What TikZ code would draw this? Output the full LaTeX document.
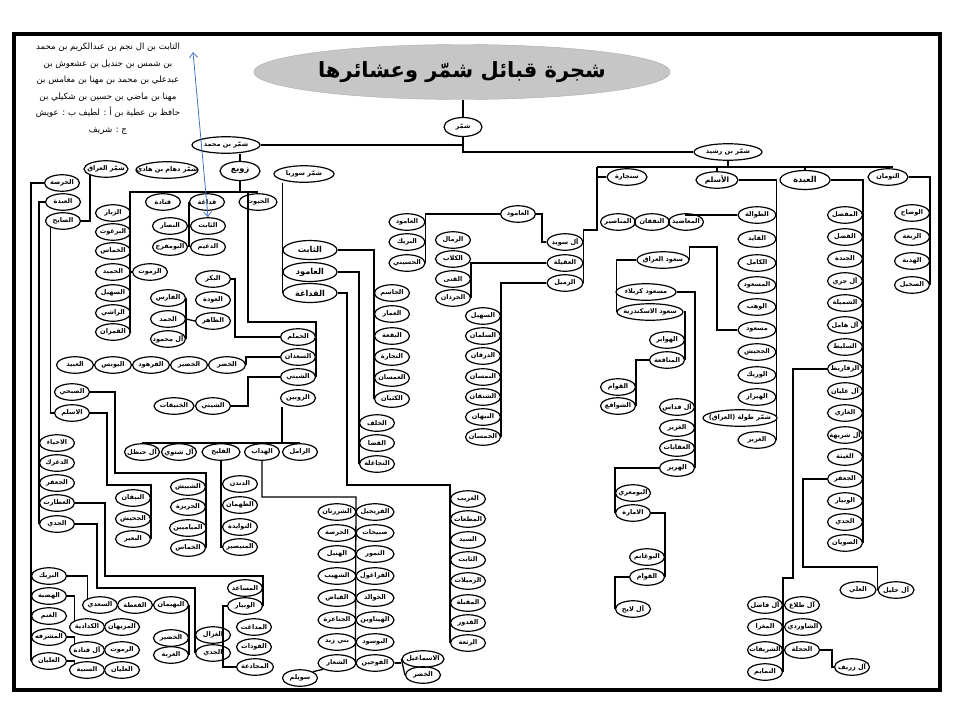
\documentclass[tikz,border=0pt]{standalone}
\usepackage{fontspec}
\newfontfamily\arabicfont[Script=Arabic]{DejaVu Sans}
\TeXXeTstate=1
\usetikzlibrary{shapes.geometric, arrows.meta}
\definecolor{refblue}{RGB}{70,114,196}
\newcommand\ar[1]{\makebox[0pt]{\beginR#1\endR}}
\begin{document}
\begin{tikzpicture}[x=1pt, y=-1pt,
    nd/.style={draw, ellipse, line width=1.2pt, inner sep=0pt, minimum width=35pt, minimum height=16.5pt, font=\arabicfont\bfseries\fontsize{6.5}{7}\selectfont},
    big/.style={nd, minimum width=46pt, minimum height=19pt, font=\arabicfont\bfseries\fontsize{8.2}{9}\selectfont},
    ttl/.style={ellipse, fill=gray!45, draw=gray!65, minimum width=310pt, minimum height=55pt, font=\arabicfont\bfseries\fontsize{21}{22}\selectfont},
    note/.style={align=center, inner sep=0pt, font=\arabicfont\fontsize{8.6}{16.5}\selectfont},
    link/.style={line width=1.3pt},
    ref/.style={draw=refblue, line width=0.8pt, {Straight Barb[length=5pt,width=8pt]}-{Straight Barb[length=5pt,width=8pt]}}
  ]
  \useasboundingbox (0,0) rectangle (960,720);
  \draw[line width=3.4pt] (14,34) rectangle (940,690);

  \node[ttl] (title) at (462,72) {\beginR شجرة قبائل شمّر وعشائرها\endR};
  \node[note] (note) at (108,89) {\beginR التابت بن ال نجم بن عبدالكريم  بن محمد\endR\\ \beginR بن شمس بن جنديل بن عشعوش بن\endR\\ \beginR عبدعلي بن محمد بن مهنا بن مغامس بن\endR\\ \beginR مهنا بن ماضي بن حسين بن شكيلي بن\endR\\ \beginR حافظ بن عطية بن أ : لطيف ب : عويش\endR\\ \beginR ج : شريف\endR};
  \coordinate (noteend) at (193,52);

  \node[nd, minimum width=38pt, minimum height=19pt] (shammar) at (463,127) {\ar{شمّر}};
  \node[nd, minimum width=68pt] (shmohd) at (226,145) {\ar{شمّر بن محمد}};
  \node[nd, minimum width=68pt] (rashid) at (728,152) {\ar{شمّر بن رشيد}};

  \node[nd, minimum width=44pt] (iraq) at (106,169) {\ar{شمّر العراق}};
  \node[nd, minimum width=62pt] (dahham) at (167,170) {\ar{شمّر دهام بن هادي}};
  \node[big, minimum width=40pt] (zawba) at (240,171) {\ar{زوبع}};
  \node[nd, minimum width=60pt] (syria) at (304,174) {\ar{شمّر سوريا}};
  \node[nd] (khirsa) at (62,183) {\ar{الخرصة}};
  \node[nd] (abda1) at (63,202) {\ar{العبدة}};
  \node[nd] (sayih) at (63,221) {\ar{الصايح}};
  \node[nd] (qatada) at (163,202) {\ar{قتادة}};
  \node[nd] (qdagha1) at (207,202) {\ar{قداغة}};
  \node[nd, minimum width=38pt] (hiyut) at (258,202) {\ar{الحيوت}};
  \node[nd] (zubar) at (113,213) {\ar{الزبار}};
  \node[nd] (barghuth) at (113,232) {\ar{البرغوث}};
  \node[nd] (khammas1) at (113,251) {\ar{الخماس}};
  \node[nd] (hamid) at (113,272) {\ar{الحميد}};
  \node[nd] (rumut1) at (150,272) {\ar{الرموت}};
  \node[nd] (suhail1) at (113,293) {\ar{السهيل}};
  \node[nd] (rashi) at (113,313) {\ar{الراشي}};
  \node[nd] (qamzan) at (113,332) {\ar{القمزان}};
  \node[nd] (nassar) at (170,226) {\ar{النصار}};
  \node[nd] (thabit1) at (208,226) {\ar{الثابت}};
  \node[nd] (bumfarij) at (170,247) {\ar{البومفرج}};
  \node[nd] (dughaim) at (208,247) {\ar{الدغيم}};
  \node[nd] (bakr) at (213,279) {\ar{البكر}};
  \node[nd] (awda) at (213,300) {\ar{العودة}};
  \node[nd] (dhahir) at (213,321) {\ar{الظاهر}};
  \node[nd] (faris) at (168,298) {\ar{الفارس}};
  \node[nd] (hamad) at (168,319) {\ar{الحمد}};
  \node[nd] (mahmud) at (168,339) {\ar{آل محمود}};
  \node[nd, minimum width=37pt] (ubaid) at (75,365) {\ar{العبيد}};
  \node[nd, minimum width=37pt] (yunis) at (113,365) {\ar{اليونس}};
  \node[nd, minimum width=37pt] (farhud) at (151,365) {\ar{الفرهود}};
  \node[nd, minimum width=37pt] (khudair1) at (189,365) {\ar{الخضير}};
  \node[nd, minimum width=37pt] (khidr1) at (227,365) {\ar{الخضر}};
  \node[nd] (subhi) at (72,392) {\ar{الصبحي}};
  \node[nd] (aslam1) at (72,413) {\ar{الاسلم}};
  \node[nd, minimum width=40pt] (khunaifat) at (174,406) {\ar{الخنيفات}};
  \node[nd] (shaiti2) at (213,406) {\ar{الشيتي}};
  \node[nd] (handhal) at (142,452) {\ar{آل حنظل}};
  \node[nd] (shatwi) at (179,452) {\ar{آل شتوي}};
  \node[nd, minimum width=38pt] (fulaih) at (221,452) {\ar{الفليح}};
  \node[nd] (haddab) at (262,452) {\ar{الهداب}};
  \node[nd] (zamil) at (300,452) {\ar{الزامل}};
  \node[nd] (ahya) at (57,443) {\ar{الاحياء}};
  \node[nd] (daghrak) at (57,463) {\ar{الدغرك}};
  \node[nd] (jafar1) at (57,483) {\ar{الجعفر}};
  \node[nd] (attart) at (57,503) {\ar{العطارت}};
  \node[nd] (jiddi1) at (57,524) {\ar{الجدي}};
  \node[nd] (bayqan) at (133,498) {\ar{البيقان}};
  \node[nd] (juhaish1) at (133,519) {\ar{الجحيش}};
  \node[nd] (baair) at (133,539) {\ar{البعير}};
  \node[nd] (shubaish) at (188,487) {\ar{الشبيش}};
  \node[nd] (harira) at (188,507) {\ar{الحريزة}};
  \node[nd, minimum width=37pt] (mayamin) at (188,528) {\ar{المياميين}};
  \node[nd] (khammas2) at (188,548) {\ar{الخماس}};
  \node[nd] (dandan) at (240,484) {\ar{الدندن}};
  \node[nd] (dhahman) at (240,505) {\ar{الظهمان}};
  \node[nd] (tawayda) at (240,527) {\ar{التوايدة}};
  \node[nd] (mutaisir) at (240,547) {\ar{المتيصير}};
  \node[nd] (musaid) at (245,588) {\ar{المساعد}};
  \node[nd] (wubayar1) at (245,606) {\ar{الوبيار}};
  \node[nd] (daghat) at (254,627) {\ar{المداغت}};
  \node[nd] (fudat) at (254,647) {\ar{الفودات}};
  \node[nd, minimum width=37pt] (mujadaa) at (255,667) {\ar{المجادعة}};
  \node[nd] (ghazal) at (213,635) {\ar{الغزال}};
  \node[nd] (jiddi2) at (213,653) {\ar{الجدي}};
  \node[nd] (buraik) at (49,576) {\ar{البريك}};
  \node[nd] (hadba) at (49,596) {\ar{الهضبة}};
  \node[nd] (ghanam) at (49,616) {\ar{الغنم}};
  \node[nd] (mushrifa) at (49,637) {\ar{المشرفه}};
  \node[nd] (ulayan1) at (49,661) {\ar{العليان}};
  \node[nd] (saadi) at (100,605) {\ar{السعدي}};
  \node[nd] (qatta) at (135,605) {\ar{القعطة}};
  \node[nd] (buhaiman) at (171,605) {\ar{البهيمان}};
  \node[nd] (kadadiya) at (87,627) {\ar{الكدادية}};
  \node[nd] (muzaihan) at (122,627) {\ar{المزيهان}};
  \node[nd] (qnada) at (87,650) {\ar{آل قنادة}};
  \node[nd] (rumut2) at (122,650) {\ar{الرموت}};
  \node[nd] (sabiya) at (87,670) {\ar{السبية}};
  \node[nd] (ulayan2) at (122,670) {\ar{العليان}};
  \node[nd] (khudair2) at (171,638) {\ar{الخضير}};
  \node[nd] (ghurba) at (171,655) {\ar{الغربة}};

  \node[big, minimum width=54pt] (thabit2) at (310,250) {\ar{الثابت}};
  \node[big, minimum width=54pt] (amud1) at (310,272) {\ar{العامود}};
  \node[big, minimum width=54pt] (qdagha2) at (310,293) {\ar{القداغة}};
  \node[nd] (hamlam) at (298,337) {\ar{الحملم}};
  \node[nd] (saadan) at (298,357) {\ar{السعدان}};
  \node[nd] (shaiti1) at (298,377) {\ar{الشيتي}};
  \node[nd] (zubain) at (298,398) {\ar{الزوبين}};
  \node[nd] (jasim) at (392,293) {\ar{الجاسم}};
  \node[nd] (ammar) at (392,314) {\ar{العمار}};
  \node[nd] (buqaa) at (392,336) {\ar{البقعة}};
  \node[nd] (tijara) at (392,357) {\ar{التجارة}};
  \node[nd] (amsan) at (392,378) {\ar{العمسان}};
  \node[nd] (kuthyan) at (392,399) {\ar{الكثيان}};
  \node[nd] (khalaf) at (377,423) {\ar{الخلف}};
  \node[nd] (qada) at (377,443) {\ar{القضا}};
  \node[nd] (tajaghla) at (377,464) {\ar{التجاغلة}};
  \node[nd, minimum width=38pt] (shurratan) at (337,512) {\ar{الشررتان}};
  \node[nd, minimum width=38pt] (harsa) at (337,533) {\ar{الحرصة}};
  \node[nd, minimum width=38pt] (hutail) at (337,554) {\ar{الهتيل}};
  \node[nd, minimum width=38pt] (shuhaib) at (337,576) {\ar{الشهيب}};
  \node[nd, minimum width=38pt] (fayyadh) at (337,598) {\ar{الفياض}};
  \node[nd, minimum width=38pt] (janaira) at (337,620) {\ar{الجناعرة}};
  \node[nd, minimum width=38pt] (banizaid) at (337,642) {\ar{بني زيد}};
  \node[nd, minimum width=38pt] (shaar) at (337,663) {\ar{الشعار}};
  \node[nd, minimum width=38pt] (furaijil) at (375,512) {\ar{الفريجيل}};
  \node[nd, minimum width=38pt] (subaihat) at (375,533) {\ar{صبيحات}};
  \node[nd, minimum width=38pt] (tumur) at (375,554) {\ar{التمور}};
  \node[nd, minimum width=38pt] (faraghul) at (375,576) {\ar{الفراغول}};
  \node[nd, minimum width=38pt] (khawalid) at (375,598) {\ar{الخوالد}};
  \node[nd, minimum width=38pt] (haitawin) at (375,620) {\ar{الهيتاوين}};
  \node[nd, minimum width=38pt] (busud) at (375,642) {\ar{البوسود}};
  \node[nd, minimum width=38pt] (fawjin) at (375,663) {\ar{الفوجين}};
  \node[nd] (suwailim) at (300,678) {\ar{سويلم}};
  \node[nd, minimum width=42pt] (ismail) at (423,659) {\ar{الاسماعيل}};
  \node[nd] (khidr2) at (423,675) {\ar{الخضر}};
  \node[nd] (gharib) at (468,499) {\ar{الغريب}};
  \node[nd] (mataat) at (468,519) {\ar{المطعات}};
  \node[nd] (sayid) at (468,540) {\ar{السيد}};
  \node[nd] (thabit3) at (468,560) {\ar{الثابت}};
  \node[nd] (zumailat) at (468,581) {\ar{الزميلات}};
  \node[nd] (muqbila) at (468,603) {\ar{المقبلة}};
  \node[nd] (qudur) at (468,623) {\ar{القدور}};
  \node[nd] (rathaa) at (468,643) {\ar{الرثعة}};

  \node[nd, minimum width=36pt] (amud2) at (407,222) {\ar{العامود}};
  \node[nd, minimum width=36pt] (buraik2) at (407,242) {\ar{البريك}};
  \node[nd, minimum width=36pt] (husaini) at (407,263) {\ar{الحسيني}};
  \node[nd] (rimal) at (453,240) {\ar{الرمال}};
  \node[nd] (kilab) at (453,259) {\ar{الكلاب}};
  \node[nd] (qina) at (453,279) {\ar{القنى}};
  \node[nd] (jurdhan) at (453,298) {\ar{الجرذان}};
  \node[nd] (amud3) at (518,214) {\ar{العامود}};
  \node[nd, minimum width=36pt] (suwaid) at (565,242) {\ar{آل سويد}};
  \node[nd, minimum width=36pt] (uqaila) at (565,263) {\ar{العقيلة}};
  \node[nd, minimum width=36pt] (zumail) at (565,283) {\ar{الزميل}};
  \node[nd] (suhail2) at (483,316) {\ar{السهيل}};
  \node[nd] (salman) at (483,336) {\ar{السلمان}};
  \node[nd] (darqan) at (483,356) {\ar{الدرقان}};
  \node[nd] (namsan) at (483,377) {\ar{النمسان}};
  \node[nd] (shanqan) at (483,397) {\ar{الشنقان}};
  \node[nd] (nabhan) at (483,417) {\ar{النبهان}};
  \node[nd] (khamsan) at (483,437) {\ar{الخمسان}};

  \node[nd, minimum width=40pt] (sinjara) at (627,177) {\ar{سنجارة}};
  \node[nd, minimum width=42pt, font=\arabicfont\bfseries\fontsize{7.4}{8}\selectfont] (aslam2) at (717,180) {\ar{الأسلم}};
  \node[big, minimum width=50pt] (abda2) at (805,180) {\ar{العبدة}};
  \node[nd, minimum width=40pt] (tuman) at (888,177) {\ar{التومان}};
  \node[nd] (manasir) at (618,222) {\ar{المناصير}};
  \node[nd] (nafqan) at (652,222) {\ar{النفقان}};
  \node[nd] (maadhid) at (686,222) {\ar{المعاضيد}};
  \node[nd, minimum width=38pt] (tawala) at (757,215) {\ar{الطوالة}};
  \node[nd, minimum width=38pt] (qayid) at (757,239) {\ar{القايد}};
  \node[nd, minimum width=38pt] (kamil) at (757,263) {\ar{الكامل}};
  \node[nd, minimum width=38pt] (masud1) at (757,285) {\ar{المسعود}};
  \node[nd, minimum width=38pt] (wahab) at (757,307) {\ar{الوهب}};
  \node[nd, minimum width=38pt] (masud2) at (757,330) {\ar{مسعود}};
  \node[nd, minimum width=38pt] (juhaish2) at (757,352) {\ar{الجحيش}};
  \node[nd, minimum width=38pt] (wurayk) at (757,375) {\ar{الوريك}};
  \node[nd, minimum width=38pt] (habraz) at (757,397) {\ar{الهبراز}};
  \node[nd, minimum width=74pt] (tula) at (740,418) {\ar{شمّر طولة (العراق)}};
  \node[nd, minimum width=38pt] (ghurair1) at (757,440) {\ar{الغرير}};
  \node[nd, minimum width=52pt] (saudiraq) at (663,260) {\ar{سعود العراق}};
  \node[nd, minimum width=60pt] (karbala) at (646,292) {\ar{مسعود كربلاء}};
  \node[nd, minimum width=66pt] (iskandar) at (650,312) {\ar{سعود الاسكندرية}};
  \node[nd] (hawabir) at (667,340) {\ar{الهوابر}};
  \node[nd] (manaqia) at (667,360) {\ar{المناقعة}};
  \node[nd] (quwam1) at (618,387) {\ar{القوام}};
  \node[nd] (shawafi) at (618,406) {\ar{الشوافع}};
  \node[nd] (fadas) at (677,407) {\ar{آل فداس}};
  \node[nd] (ghurair2) at (677,428) {\ar{الغرير}};
  \node[nd] (uqabat) at (677,448) {\ar{العقابات}};
  \node[nd] (hurair) at (677,468) {\ar{الهرير}};
  \node[nd] (bumari) at (633,493) {\ar{البومعري}};
  \node[nd] (imara) at (633,513) {\ar{الامارة}};
  \node[nd] (bughanim) at (647,557) {\ar{البوغانم}};
  \node[nd] (quwam2) at (647,577) {\ar{القوام}};
  \node[nd] (layih) at (633,609) {\ar{آل لايح}};
  \node[nd] (mufaddal) at (845,215) {\ar{المفضل}};
  \node[nd] (fadl) at (845,237) {\ar{الفضل}};
  \node[nd] (junda) at (845,259) {\ar{الجندة}};
  \node[nd] (jari) at (845,281) {\ar{آل جري}};
  \node[nd] (shumaila) at (845,303) {\ar{الشميلة}};
  \node[nd] (hamil) at (845,325) {\ar{آل هامل}};
  \node[nd] (sulait) at (845,347) {\ar{السليط}};
  \node[nd] (zuqarit) at (845,369) {\ar{الزقاريط}};
  \node[nd] (ulyan) at (845,391) {\ar{آل عليان}};
  \node[nd] (ghazi) at (845,413) {\ar{الغازي}};
  \node[nd] (shariha) at (845,435) {\ar{آل شريهة}};
  \node[nd] (ghaitha) at (845,457) {\ar{الغيثة}};
  \node[nd] (jafar2) at (845,479) {\ar{الجعفر}};
  \node[nd] (wubayar2) at (845,501) {\ar{الوبيار}};
  \node[nd] (jiddi3) at (845,522) {\ar{الجدي}};
  \node[nd] (suwayan) at (845,543) {\ar{الصويان}};
  \node[nd] (waddah) at (912,213) {\ar{الوضاح}};
  \node[nd] (rabaa) at (912,237) {\ar{الربعة}};
  \node[nd] (hadba2) at (912,261) {\ar{الهدبة}};
  \node[nd] (sakhil) at (912,285) {\ar{الصخيل}};
  \node[nd, minimum width=36pt] (ali) at (858,590) {\ar{العلي}};
  \node[nd, minimum width=36pt] (khalil) at (896,590) {\ar{آل خليل}};
  \node[nd] (tala) at (802,605) {\ar{آل طلاع}};
  \node[nd] (fadil) at (765,605) {\ar{آل فاضل}};
  \node[nd, minimum width=37pt] (shawardi) at (803,627) {\ar{الشاوردي}};
  \node[nd] (mughra) at (765,627) {\ar{المغرا}};
  \node[nd] (hajla) at (802,650) {\ar{الحجلة}};
  \node[nd] (sharifat) at (765,650) {\ar{الشريفات}};
  \node[nd] (tamayim) at (765,672) {\ar{التمايم}};
  \node[nd] (zarif) at (852,667) {\ar{آل زريف}};

  \coordinate (zbL) at (130,192);
  \coordinate (zbR) at (258,192);
  \coordinate (hvA) at (248,192);
  \coordinate (hvB) at (248,322);
  \coordinate (zbj) at (282,443);
  \coordinate (hdb) at (356,497);
  \coordinate (qdg) at (347,485);
  \coordinate (asl) at (107,485);
  \coordinate (sbh) at (115,473);
  \coordinate (att) at (105,576);
  \coordinate (jd) at (97,588);
  \coordinate (rbL) at (597,167);
  \coordinate (rbR) at (893,167);
  \coordinate (ms) at (717,247);
  \coordinate (zq) at (793,578);
  \coordinate (jf) at (803,567);

  \draw[link] (title.south -| shammar) -- (shammar.north);
  \draw[link] (shammar.south) |- (shmohd.east);
  \draw[link] (shammar.south) |- (rashid.west);
  \draw[link] (shmohd.south -| zawba) -- (zawba.north);
  \draw[link] (zawba.south) -- (zawba.south |- zbL);
  \draw[link] (zbR) -- (zbL) |- (qamzan.east);
  \draw[link] (hvA) -- (hvB) -| (shaiti1.east);
  \draw[link] (rumut1.west) -- (hamid.east);
  \draw[link] (qdagha1.west) -- (qdagha1.west |- dughaim.west);
  \draw[link] (bakr.east) -- ++(4,0) |- (hamlam.west);
  \draw[link] (hamad.east) -- (dhahir.west);
  \draw[link] (faris.east) -- (mahmud.east);
  \draw[link] (saadan.west) -| (khidr1.east);
  \draw[link] (shaiti1.west) -- ++(-32,0) |- (shaiti2.east);
  \draw[link] (zubain.south -| zbj) -- (zbj);
  \draw[link] (handhal.north |- zbj) -- (zamil.north |- zbj);
  \draw[link] (fulaih.south) |- (mutaisir.west);
  \draw[link] (haddab.south) |- (hdb) -- (fawjin.west);
  \draw[link] (shaar.south west) -- (suwailim.north east);
  \draw[link] (fawjin.east) -- (fawjin.east -| ismail.west);
  \draw[link] (ismail.west) -- (khidr2.west);
  \draw[link] (syria.south -| qdagha2.west) -- (qdagha2.west);
  \draw[link] (thabit2.east) -| (kuthyan.west);
  \draw[link] (amud1.east) -| (tajaghla.west);
  \draw[link] (qdagha2.east) -| (qdg) -| (rathaa.west);
  \draw[link] (aslam1.east) -| (asl) -| (baair.east);
  \draw[link] (subhi.east) -| (sbh) -| (khammas2.east);
  \draw[link] (abda1.west) -| (jiddi1.west);
  \draw[link] (khirsa.west) -| (ulayan1.west);
  \draw[link] (sayih.south west) |- (aslam1.west);
  \draw[link] (iraq.south west) |- (sayih.east);
  \draw[link] (attart.east) -| (att) -| (wubayar1.east);
  \draw[link] (wubayar1.west) -- ++(-4,0) |- (mujadaa.west);
  \draw[link] (jiddi1.east) -| (jd) -| (jiddi2.west);
  \draw[link] (buraik.east) -| (saadi.north west);
  \draw[link] (hadba.east) -| (kadadiya.north west);
  \draw[link] (mushrifa.east) -| (qnada.north west);
  \draw[link] (ulayan1.east) -| (sabiya.north west);
  \draw[link] (buhaiman.east) -- (ghurba.east);
  \draw[ref] (noteend) -- (thabit1.north);

  \draw[link] (amud3.west) -| (husaini.east);
  \draw[link] (amud3.east) -- ++(6,0) |- (suwaid.west);
  \draw[link] (suwaid.east) -- (zumail.east);
  \draw[link] (uqaila.west) -| (jurdhan.east);
  \draw[link] (zumail.west) -| (khamsan.east);
  \draw[link] (rashid.south) -- (rashid.south |- rbL);
  \draw[link] (rbL) -- (rbR);
  \draw[link] (rbL) |- (sinjara.west);
  \draw[link] (rbL) -- ++(0,63) -| (suwaid.east);
  \draw[link] (aslam2.north |- rbL) -- (aslam2.north);
  \draw[link] (abda2.north |- rbL) -- (abda2.north);
  \draw[link] (tuman.north |- rbL) -- (tuman.north);
  \draw[link] (aslam2.east) -| (ghurair1.east);
  \draw[link] (maadhid.north) |- (tawala.west);
  \draw[link] (masud2.west) -| (ms) -| (saudiraq.east);
  \draw[link] (saudiraq.west) -| (iskandar.west);
  \draw[link] (karbala.east) -| (hurair.east);
  \draw[link] (iskandar.east) -| (manaqia.east);
  \draw[link] (manaqia.west) -| (shawafi.east);
  \draw[link] (hurair.west) -| (imara.west);
  \draw[link] (imara.east) -| (quwam2.east);
  \draw[link] (quwam2.west) -| (layih.west);
  \draw[link] (abda2.east) -| (suwayan.east);
  \draw[link] (tuman.east) -| (sakhil.east);
  \draw[link] (zuqarit.west) -| (zq) -| (tamayim.east);
  \draw[link] (hajla.east) -- ++(12,0) |- (zarif.west);
  \draw[link] (jafar2.west) -| (jf) -| (khalil.west);
\end{tikzpicture}
\end{document}
